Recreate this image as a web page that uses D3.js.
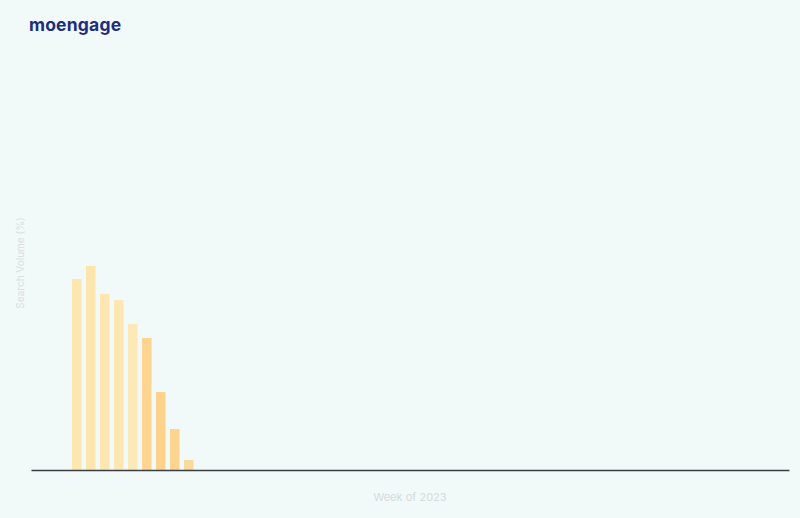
<!DOCTYPE html>
<html><head><meta charset="utf-8">
<script src="https://cdn.jsdelivr.net/npm/d3@7"></script>
<style>
html,body{margin:0;padding:0;background:#F1F9F9;}
svg{display:block;}
</style></head>
<body>
<script>
const weeks = d3.range(1, 53).map(w => "W" + w);
const dataWeeks = ["W3","W4","W5","W6","W7","W8","W9","W10","W11"];
const searchVolume = [93.6, 100, 86.3, 83.3, 71.6, 64.7, 38.2, 20.1, 4.9];
const barColors = ["#FDE7B0","#FDE6AE","#FDE6AF","#FDE8B4","#FDE9B8","#FDD590","#FDD38C","#FDD48F","#FBD99C"];
const xTitle = "Week of 2023";
const yTitle = "Search Volume (%)";
const brand = "moengage";

const W = 800, H = 518;
const svg = d3.select("body").append("svg").attr("width", W).attr("height", H);
svg.append("rect").attr("width", W).attr("height", H).attr("fill", "#F1F9F9");

const x = d3.scaleBand().domain(weeks).range([37, 774.5]).paddingInner(0.32).paddingOuter(0.5);
const y = d3.scaleLinear().domain([0, 100]).range([470, 266]);

const data = dataWeeks.map((w, i) => ({week: w, v: searchVolume[i], c: barColors[i]}));

svg.append("g").selectAll("rect").data(data).join("rect")
  .attr("x", d => x(d.week))
  .attr("width", x.bandwidth())
  .attr("y", d => y(d.v))
  .attr("height", d => y(0) - y(d.v))
  .attr("fill", d => d.c);

// baseline axis
const xAxis = d3.axisBottom(d3.scaleLinear().range([31, 789])).ticks(0).tickSize(0);
const gx = svg.append("g").attr("transform", "translate(0,470)").call(xAxis);
gx.select(".domain").attr("stroke", "#3A3F44").attr("stroke-width", 1.3);
gx.selectAll("text").remove();

svg.append("text").attr("x", 410).attr("y", 501).attr("text-anchor", "middle")
  .attr("font-family", "Inter, sans-serif").attr("font-size", 11).attr("fill", "#D6DCDC")
  .text(xTitle);

svg.append("text").attr("transform", "translate(24,263) rotate(-90)").attr("text-anchor", "middle")
  .attr("font-family", "Inter, sans-serif").attr("font-size", 10).attr("fill", "#D8DFDF")
  .text(yTitle);

svg.append("text").attr("x", 29).attr("y", 31)
  .attr("font-family", "Inter, sans-serif").attr("font-weight", 700).attr("font-size", 17.5)
  .attr("letter-spacing", 0.2).attr("fill", "#1E2D7D")
  .text(brand);
</script>
</body></html>
